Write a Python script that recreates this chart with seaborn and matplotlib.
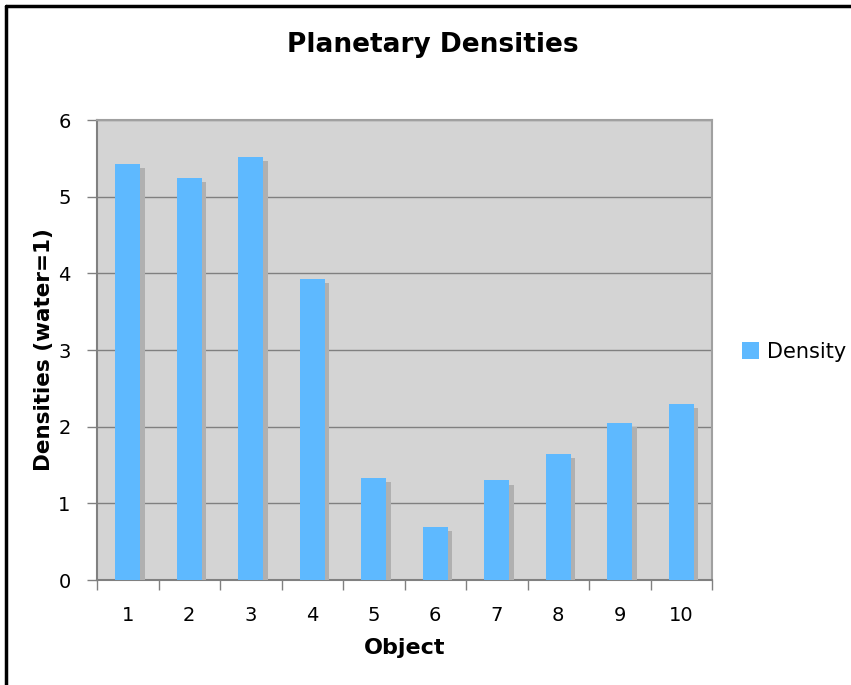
import numpy as np
import pandas as pd
import matplotlib
matplotlib.use("Agg")
import matplotlib.pyplot as plt
import matplotlib.patheffects as pe
from matplotlib.lines import Line2D
import seaborn as sns

objects = ["1", "2", "3", "4", "5", "6", "7", "8", "9", "10"]
densities = [5.43, 5.24, 5.52, 3.93, 1.33, 0.69, 1.30, 1.64, 2.05, 2.30]
series_name = "Density"
title = "Planetary Densities"
y_label = "Densities (water=1)"
x_label = "Object"

df = pd.DataFrame({"Object": objects, "Density": densities, "Series": series_name})

sns.set_theme(style="white")
plt.rcParams["font.family"] = ["DejaVu Sans"]
plt.rcParams["text.color"] = "black"
plt.rcParams["axes.labelcolor"] = "black"

fig = plt.figure(figsize=(8.51, 6.85), dpi=100)
ax = fig.add_axes([97/851, 1-580/685, (712-97)/851, (580-120)/685])
ax.set_facecolor("#d4d4d4")

sns.barplot(data=df, x="Object", y="Density", hue="Series", palette=["#5EB9FF"],
            width=0.41, ax=ax, legend=True, zorder=3, saturation=1)
for p in ax.patches:
    p.set_path_effects([pe.SimplePatchShadow(offset=(3, -3), shadow_rgbFace="#b0b0b0", alpha=1.0), pe.Normal()])
    p.set_edgecolor("none")

ax.set_ylim(0, 6)
ax.set_xlim(-0.5, 9.5)
ax.set_yticks(range(0, 7))
ax.yaxis.grid(True, color="#808080", linewidth=1.0, zorder=0)
ax.set_axisbelow(True)

for s in ["left", "bottom"]:
    ax.spines[s].set_color("#808080")
    ax.spines[s].set_linewidth(1.5)
for s in ["top", "right"]:
    ax.spines[s].set_color("#a0a0a0")
    ax.spines[s].set_linewidth(1.5)

ax.tick_params(axis="y", which="major", left=True, length=7, width=1, color="#808080",
               labelsize=14, pad=12, labelcolor="black")
ax.tick_params(axis="x", which="major", bottom=False, length=0, labelsize=14, pad=19, labelcolor="black")
ax.set_xticks(np.arange(-0.5, 10, 1), minor=True)
ax.tick_params(axis="x", which="minor", bottom=True, length=7, width=1, color="#808080")

ax.set_ylabel(y_label, fontsize=15.5, fontweight="bold", labelpad=3, color="black")
ax.set_xlabel(x_label, fontsize=16, fontweight="bold", labelpad=9, color="black")
fig.text(433/851, 1-45/685, title, ha="center", va="center", fontsize=19, fontweight="bold", color="black")

leg = ax.legend(loc="center left", bbox_to_anchor=(723/851, 1-352/685), bbox_transform=fig.transFigure,
                frameon=False, fontsize=15, handlelength=0.85, handleheight=0.85, handletextpad=0.35)
for h in leg.legend_handles:
    h.set_path_effects([])
for t in leg.get_texts():
    t.set_color("black")

fig.add_artist(Line2D([6/851, 6/851], [0, 1-6/685], color="black", linewidth=2.5, transform=fig.transFigure))
fig.add_artist(Line2D([6/851, 1], [1-6/685, 1-6/685], color="black", linewidth=2.5, transform=fig.transFigure))

fig.savefig("out.png", dpi=100)
